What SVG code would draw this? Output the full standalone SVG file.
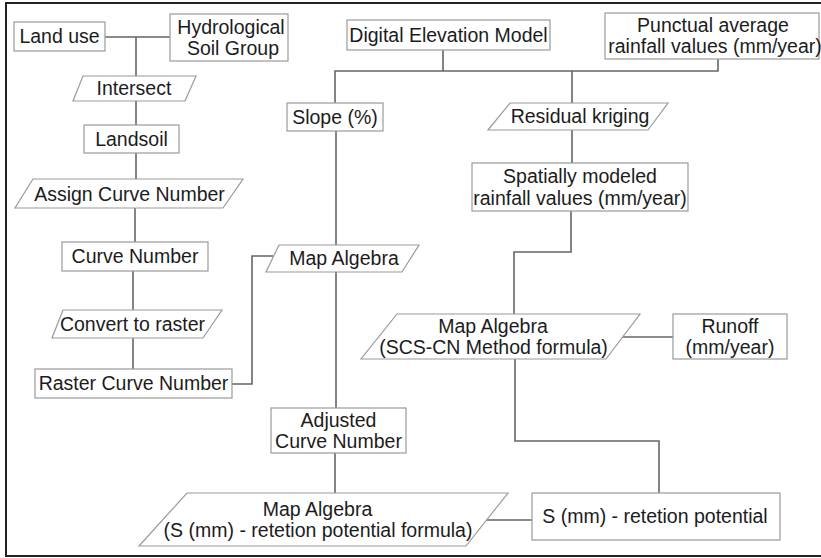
<svg xmlns="http://www.w3.org/2000/svg" width="821" height="558" viewBox="0 0 821 558">
<style>
.b{fill:#fff;stroke:#9a9a9a;stroke-width:1.2}
.c{fill:none;stroke:#666;stroke-width:1.6}
text{font-family:"Liberation Sans",Arial,sans-serif;font-size:19.5px;fill:#1c1c1c;text-anchor:middle}
</style>
<rect x="0" y="0" width="821" height="558" fill="#fff"/>
<rect x="6" y="3" width="822" height="553" fill="none" stroke="#222" stroke-width="2"/>
<g id="connectors">
<path class="c" d="M105,37 H170 M136,37 V76 M136,101 V125 M136,153 V179 M135,208 V242 M133,271 V310 M133,338 V369"/>
<path class="c" d="M232,384 H252 V256 H273"/>
<path class="c" d="M443,50 V71 M335,103 V71 H718 V59 M572,71 V103"/>
<path class="c" d="M336,131 V245 M336,272 V408"/>
<path class="c" d="M572,130 V163 M571,211 V252 H514 V314"/>
<path class="c" d="M622,337 H673"/>
<path class="c" d="M515,359 V441 H659 V493"/>
<path class="c" d="M335,453 V493 M486,520 H532"/>
</g>
<g id="land-use"><rect class="b" x="14" y="22" width="91" height="29"/><text x="59.5" y="43">Land use</text></g>
<g id="hydrological-soil-group"><rect class="b" x="170" y="14" width="118" height="47"/><text x="231" y="33.5">Hydrological</text><text x="233" y="54.5">Soil Group</text></g>
<g id="intersect"><polygon class="b" points="83,76 196,76 185,101 73,101"/><text x="134" y="94.5">Intersect</text></g>
<g id="landsoil"><rect class="b" x="84" y="125" width="95" height="28"/><text x="131.5" y="146">Landsoil</text></g>
<g id="assign-curve-number"><polygon class="b" points="33,179 243,179 223,208 15,208"/><text x="129.5" y="200.5">Assign Curve Number</text></g>
<g id="curve-number"><rect class="b" x="62" y="242" width="146" height="29"/><text x="135" y="263">Curve Number</text></g>
<g id="convert-to-raster"><polygon class="b" points="63,310 222,310 203,338 52,338"/><text x="132.5" y="331">Convert to raster</text></g>
<g id="raster-curve-number"><rect class="b" x="35" y="369" width="197" height="29"/><text x="133.5" y="390">Raster Curve Number</text></g>
<g id="map-algebra-1"><polygon class="b" points="279,245 419,245 402,272 266,272"/><text x="344" y="265">Map Algebra</text></g>
<g id="dem"><rect class="b" x="347" y="20" width="203" height="30"/><text x="448.5" y="42">Digital Elevation Model</text></g>
<g id="punctual-rainfall"><rect class="b" x="605" y="13" width="214" height="46"/><text x="713" y="32">Punctual average</text><text x="715" y="53">rainfall values (mm/year)</text></g>
<g id="slope"><rect class="b" x="287" y="103" width="96" height="28"/><text x="335" y="124">Slope (%)</text></g>
<g id="residual-kriging"><polygon class="b" points="510,103 668,103 648,130 488,130"/><text x="580" y="123">Residual kriging</text></g>
<g id="spatial-rainfall"><rect class="b" x="472" y="163" width="216" height="48"/><text x="580" y="183">Spatially modeled</text><text x="580" y="204.5">rainfall values (mm/year)</text></g>
<g id="map-algebra-scs"><polygon class="b" points="397,314 640,314 606,359 361,359"/><text x="493" y="332.5">Map Algebra</text><text x="493.5" y="353.5">(SCS-CN Method formula)</text></g>
<g id="runoff"><rect class="b" x="673" y="314" width="114" height="45"/><text x="730" y="332.5">Runoff</text><text x="730" y="353.5">(mm/year)</text></g>
<g id="s-retention"><rect class="b" x="532" y="493" width="248" height="47"/><text x="655" y="523">S (mm) - retetion potential</text></g>
<g id="adjusted-cn"><rect class="b" x="271" y="408" width="135" height="45"/><text x="338.5" y="427">Adjusted</text><text x="338.5" y="448">Curve Number</text></g>
<g id="map-algebra-s"><polygon class="b" points="187,493 508,493 466,546 139,546"/><text x="317.5" y="515.5">Map Algebra</text><text x="318" y="536.5">(S (mm) - retetion potential formula)</text></g>
</svg>
